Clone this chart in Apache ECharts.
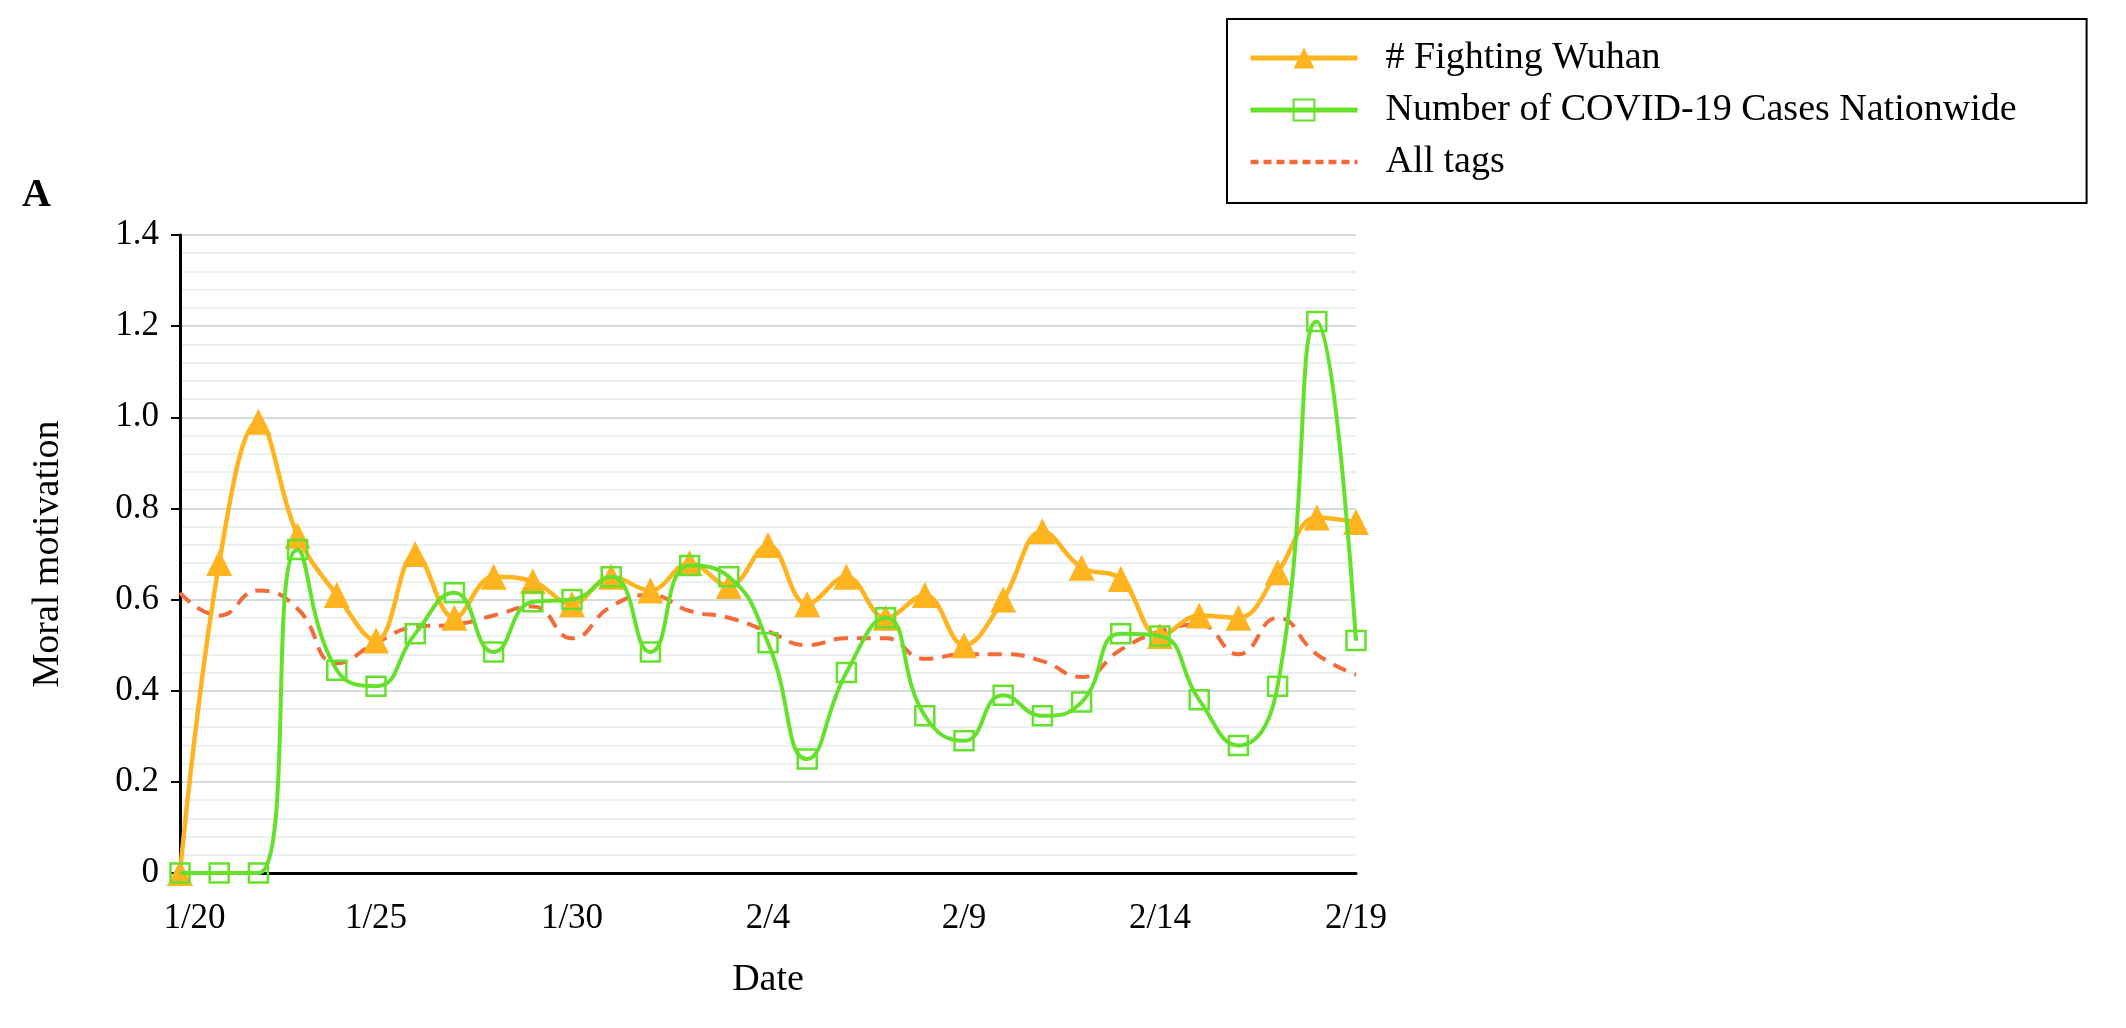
<!DOCTYPE html>
<html>
<head>
<meta charset="utf-8">
<script src="https://cdn.jsdelivr.net/npm/echarts@6/dist/echarts.min.js"></script>
<style>
html,body{margin:0;padding:0;background:#fff;}
#chart{width:2126px;height:1028px;}
</style>
</head>
<body>
<div id="chart"></div>
<script>
const dates = ['1/20','1/21','1/22','1/23','1/24','1/25','1/26','1/27','1/28','1/29','1/30','1/31',
  '2/1','2/2','2/3','2/4','2/5','2/6','2/7','2/8','2/9','2/10','2/11','2/12','2/13','2/14','2/15','2/16','2/17','2/18','2/19'];
const fightingWuhan = [0, 0.68, 0.99, 0.74, 0.61, 0.51, 0.70, 0.56, 0.65, 0.64, 0.59, 0.65, 0.62, 0.68, 0.63, 0.72,
  0.59, 0.65, 0.56, 0.61, 0.50, 0.60, 0.75, 0.67, 0.645, 0.52, 0.565, 0.56, 0.66, 0.78, 0.77];
const covidCases = [0, 0, 0, 0.71, 0.445, 0.41, 0.525, 0.615, 0.485, 0.595, 0.60, 0.65, 0.485, 0.675, 0.65, 0.505,
  0.25, 0.44, 0.56, 0.345, 0.29, 0.39, 0.345, 0.375, 0.525, 0.52, 0.38, 0.28, 0.41, 1.21, 0.51];
const allTags = [0.615, 0.565, 0.62, 0.58, 0.46, 0.505, 0.54, 0.545, 0.565, 0.585, 0.515, 0.585, 0.61, 0.575, 0.56, 0.53,
  0.50, 0.515, 0.515, 0.47, 0.48, 0.48, 0.465, 0.43, 0.49, 0.53, 0.545, 0.48, 0.56, 0.48, 0.435];
const yTicks = [0, 0.2, 0.4, 0.6, 0.8, 1.0, 1.2, 1.4];
const seriesNames = ['# Fighting Wuhan', 'Number of COVID-19 Cases Nationwide', 'All tags'];

const FONT = '"Liberation Serif", "Times New Roman", serif';
const ORANGE = '#FFB31E', GREEN = '#66E12B', RED = '#F46B3A';

const chart = echarts.init(document.getElementById('chart'));
chart.setOption({
  backgroundColor: '#fff',
  animation: false,
  graphic: [{
    type: 'text', left: 22, top: 176,
    style: { text: 'A', font: 'bold 40px ' + FONT, fill: '#000' }
  }],
  legend: {
    data: [
      { name: seriesNames[0], lineStyle: { width: 5 } },
      { name: seriesNames[1], lineStyle: { width: 5 } },
      { name: seriesNames[2], lineStyle: { width: 4.5, type: [8, 5] }, itemStyle: { opacity: 0 } }
    ],
    orient: 'vertical',
    left: 1227, top: 19,
    padding: [19, 70, 21, 21],
    borderColor: '#000', borderWidth: 2,
    itemWidth: 107, itemHeight: 26, itemGap: 12,
    textStyle: { fontFamily: FONT, fontSize: 38, color: '#000', lineHeight: 40, padding: [0, 0, 0, 23] }
  },
  grid: { left: 180, right: 770, top: 235, bottom: 155, containLabel: false },
  xAxis: {
    type: 'category', data: dates, boundaryGap: false,
    name: 'Date', nameLocation: 'middle', nameGap: 88,
    nameTextStyle: { fontFamily: FONT, fontSize: 38, color: '#000' },
    axisLine: { show: true, onZero: false, lineStyle: { color: '#000', width: 3 } },
    axisTick: { show: false },
    axisLabel: {
      interval: 4, fontFamily: FONT, fontSize: 35, color: '#000', margin: 28,
      formatter: (v, i) => (i === 0 ? '{first|' + v + '}' : v),
      rich: { first: { fontFamily: FONT, fontSize: 35, color: '#000', padding: [0, 0, 0, 29] } }
    },
    splitLine: { show: false }
  },
  yAxis: {
    type: 'value', min: 0, max: 1.4, interval: 0.2,
    name: 'Moral motivation', nameLocation: 'middle', nameGap: 113, nameRotate: 90,
    nameTextStyle: { fontFamily: FONT, fontSize: 38, color: '#000' },
    axisLine: { show: true, lineStyle: { color: '#000', width: 3 } },
    axisTick: { show: true, length: 9, lineStyle: { color: '#000', width: 2 } },
    axisLabel: {
      fontFamily: FONT, fontSize: 35, color: '#000', margin: 21,
      formatter: v => (v === 0 ? '0' : v.toFixed(1))
    },
    splitLine: { show: true, lineStyle: { color: '#D3DCDC', width: 2 } },
    minorTick: { show: false, splitNumber: 5 },
    minorSplitLine: { show: true, lineStyle: { color: '#EBF1F1', width: 2 } }
  },
  series: [
    {
      name: seriesNames[2], type: 'line', data: allTags, smooth: 0.5,
      showSymbol: false, symbol: 'none', z: 2,
      lineStyle: { color: RED, width: 4, type: [14, 9] },
      itemStyle: { color: RED }
    },
    {
      name: seriesNames[0], type: 'line', data: fightingWuhan, smooth: 0.4,
      symbol: 'triangle', symbolSize: 26, showAllSymbol: true, z: 3,
      lineStyle: { color: ORANGE, width: 4.5 },
      itemStyle: { color: ORANGE }
    },
    {
      name: seriesNames[1], type: 'line', data: covidCases, smooth: 0.5,
      symbol: 'rect', symbolSize: 19, showAllSymbol: true, z: 4,
      lineStyle: { color: GREEN, width: 4 },
      itemStyle: { color: 'rgba(255,255,255,0)', borderColor: GREEN, borderWidth: 2.5 }
    }
  ]
});
</script>
</body>
</html>
